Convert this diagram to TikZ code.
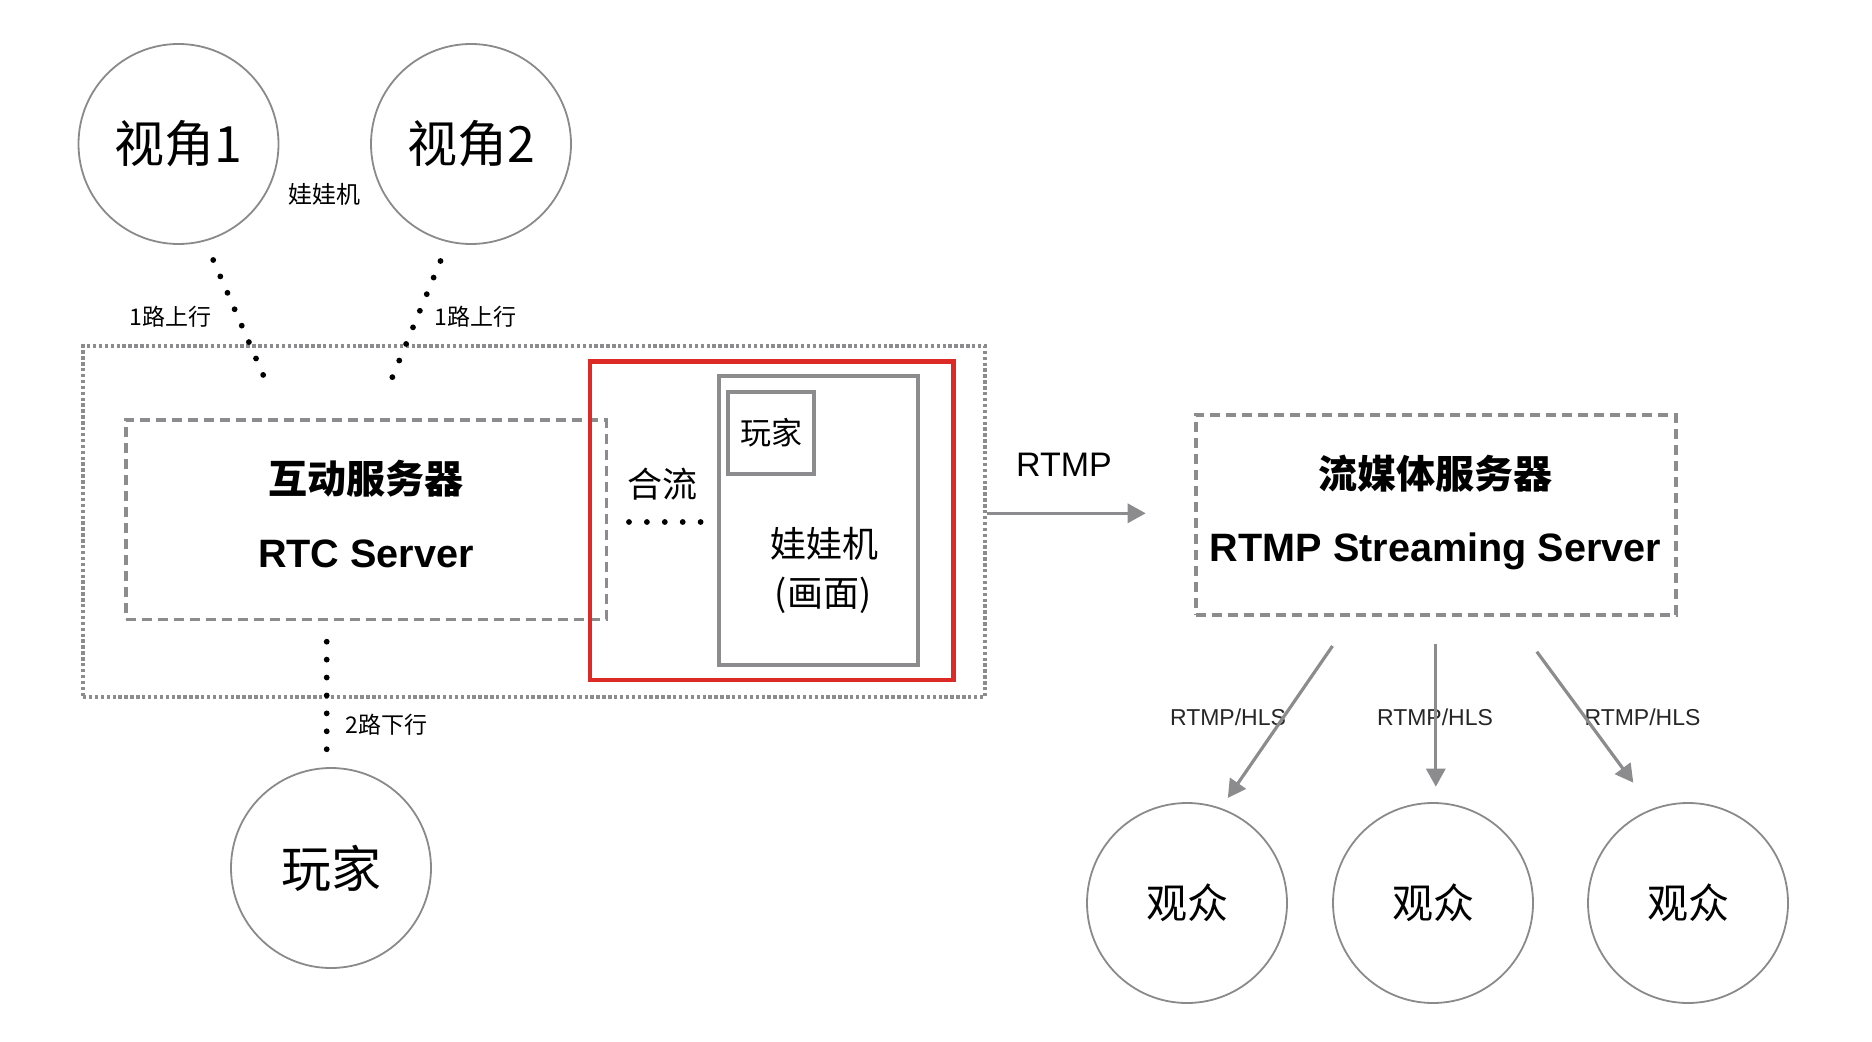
\documentclass[tikz,border=0pt]{standalone}
\usepackage{fontspec}
\setmainfont{Liberation Sans}
\newfontfamily\cjk{Noto Sans CJK SC}
\usetikzlibrary{arrows.meta,fit}
\definecolor{edgegray}{HTML}{8A8A8A}
\definecolor{boxgray}{HTML}{8C8C8E}
\definecolor{redline}{HTML}{DC2B26}
\begin{document}
\begin{tikzpicture}[x=0.5pt,y=-0.5pt,
  bubble/.style={circle,draw=edgegray,line width=0.9pt,minimum size=100pt,inner sep=0pt,font=\cjk\fontsize{25}{30}\selectfont},
  audience/.style={bubble,font=\cjk\fontsize{20.5}{24}\selectfont},
  outerbox/.style={draw=boxgray,line width=1.75pt,dash pattern=on 1.7pt off 1.25pt,inner sep=0pt},
  dashbox/.style={draw=boxgray,line width=1.8pt,dash pattern=on 5pt off 3pt,inner sep=0pt},
  redbox/.style={draw=redline,line width=2.3pt,inner sep=0pt},
  graybox/.style={draw=boxgray,line width=2.2pt,inner sep=0pt},
  smalllabel/.style={font=\cjk\fontsize{11.5}{13}\selectfont,inner sep=0pt},
  cjktitle/.style={font=\cjk\bfseries\fontsize{19.5}{22}\selectfont,inner sep=0pt},
  lattitle/.style={font=\bfseries\fontsize{19.8}{22}\selectfont,inner sep=0pt,anchor=base},
  midtext/.style={font=\cjk\fontsize{18}{21}\selectfont,inner sep=0pt},
  proto/.style={font=\fontsize{11.5}{13}\selectfont,inner sep=0pt,anchor=base,text=black!85},
  dotline/.style={line width=2.9pt,line cap=round,black},
  flow/.style={draw=boxgray,line width=1.6pt,-{Triangle[length=9pt,width=9.5pt]}}
]
\useasboundingbox (0,0) rectangle (1872,1042);

% circles
\node[bubble] (v1) at (178.5,144) {视角1};
\node[bubble] (v2) at (471,144) {视角2};
\node[bubble] (player) at (331,868) {玩家};
\node[audience] (aud1) at (1187,903) {观众};
\node[audience] (aud2) at (1433,903) {观众};
\node[audience] (aud3) at (1688,903) {观众};

% boxes
\node[outerbox,fit={(83,346) (985,697)}] (outer) {};
\node[dashbox,fit={(125.7,420) (606.4,619.3)}] (rtc) {};
\node[redbox,fit={(590,361.7) (953.4,680)}] (mix) {};
\node[graybox,fit={(719,376) (918.2,665)}] (doll) {};
\node[graybox,line width=2pt,fit={(728.3,391.7) (813.9,474.3)}] (pbox) {};
\node[dashbox,fit={(1195.7,415) (1676,615)}] (stream) {};

% texts
\node[smalllabel,font=\cjk\fontsize{12}{14}\selectfont] (dolllab) at (324.3,194) {娃娃机};
\node[smalllabel] (up1) at (170.2,316.7) {1路上行};
\node[smalllabel] (up2) at (475.8,316.7) {1路上行};
\node[smalllabel] (down) at (386.7,725) {2路下行};
\node[cjktitle] (rtccn) at (366,479) {互动服务器};
\node[lattitle] (rtcen) at (366,567.3) {RTC Server};
\node[midtext,font=\cjk\fontsize{17.5}{21}\selectfont] (merge) at (662,484) {合流};
\node[midtext,font=\cjk\fontsize{15.5}{18}\selectfont] (ptext) at (771.5,433) {玩家};
\node[midtext] (dolltext) at (824,544) {娃娃机};
\node[midtext] (pictext) at (823,595) {(画面)};
\node[font=\fontsize{17}{20}\selectfont,inner sep=0pt,anchor=base] (rtmplab) at (1064,476.7) {RTMP};
\node[cjktitle] (streamcn) at (1435.5,473.7) {流媒体服务器};
\node[lattitle] (streamen) at (1435.5,561) {RTMP Streaming Server};
\node[proto] (p1) at (1228,725) {RTMP/HLS};
\node[proto] (p2) at (1435,725) {RTMP/HLS};
\node[proto] (p3) at (1642.5,725) {RTMP/HLS};

% dotted links
\coordinate (d1a) at (213.2,260);
\coordinate (d1b) at (263.2,375);
\coordinate (d2a) at (440.5,261);
\coordinate (d2b) at (392.3,377.3);
\coordinate (d3a) at (326.7,641.7);
\coordinate (d3b) at (326.7,749.3);
\coordinate (m1) at (629,522);
\coordinate (m2) at (700.7,522);
\draw[dotline,dash pattern=on 0pt off 8.95pt] (d1a) -- (d1b);
\draw[dotline,dash pattern=on 0pt off 8.98pt] (d2a) -- (d2b);
\draw[dotline,dash pattern=on 0pt off 8.96pt] (d3a) -- (d3b);
\draw[dotline,dash pattern=on 0pt off 8.95pt] (m1) -- (m2);

% arrows
\coordinate (rtmpend) at (1145.7,513.3);
\draw[flow] (outer.east |- rtmpend) -- (rtmpend);
\coordinate (s1) at (1332.5,646);
\coordinate (e1) at (1227.8,798);
\coordinate (s2) at (1435.8,644.3);
\coordinate (e2) at (1435.8,786.7);
\coordinate (s3) at (1536.8,651.7);
\coordinate (e3) at (1633.3,782.7);
\draw[flow] (s1) -- (e1);
\draw[flow] (s2) -- (e2);
\draw[flow] (s3) -- (e3);
\end{tikzpicture}
\end{document}
